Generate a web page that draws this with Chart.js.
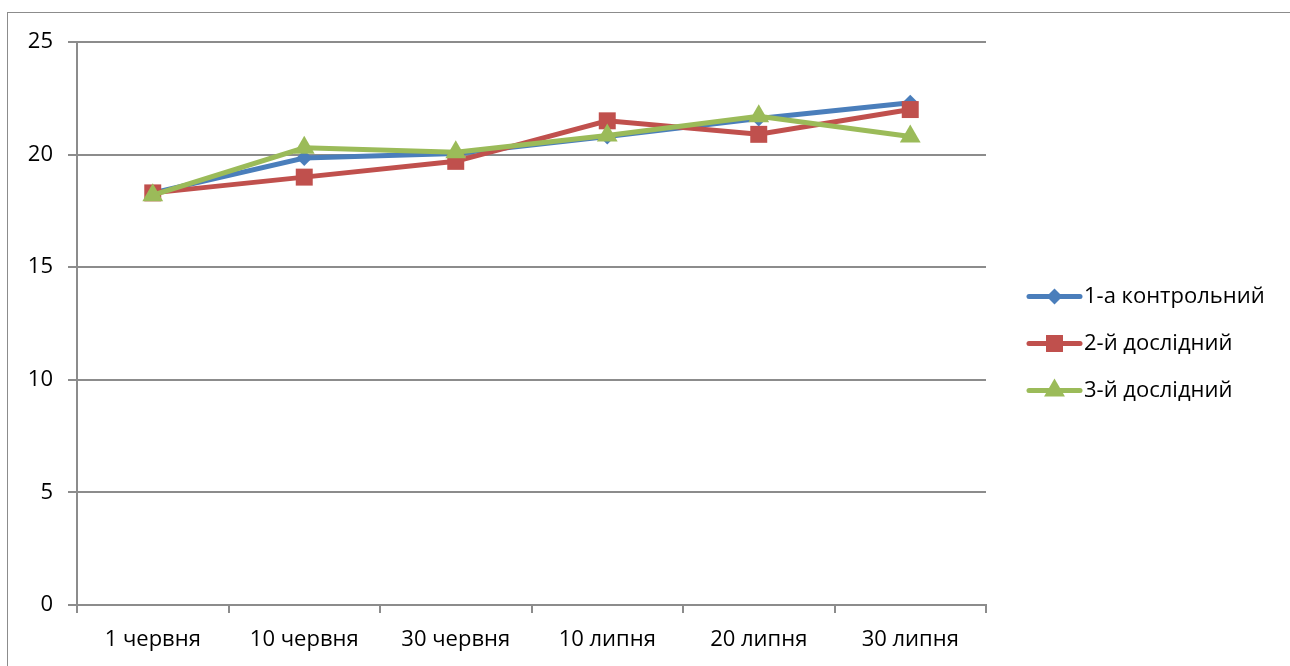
<!DOCTYPE html>
<html>
<head>
<meta charset="utf-8">
<script src="https://cdn.jsdelivr.net/npm/chart.js@4.4.1/dist/chart.umd.min.js"></script>
<style>
  html, body { margin: 0; padding: 0; background: #fff; overflow: hidden; }
  #wrap { position: relative; width: 1290px; height: 666px; }
  #frame { position: absolute; left: 7px; top: 12px; width: 1400px; height: 800px; border: 1px solid #8c8c8c; box-sizing: border-box; pointer-events: none; }
  canvas { position: absolute; left: 0; top: 0; }
</style>
</head>
<body>
<div id="wrap">
  <canvas id="c" width="1290" height="666"></canvas>
  <div id="frame"></div>
</div>
<script>
// Sampling dates
const categories = ['1 червня', '10 червня', '30 червня', '10 липня', '20 липня', '30 липня'];

// Series values
const control1 = [18.3, 19.85, 20.05, 20.8, 21.6, 22.3];
const trial2   = [18.3, 19.0, 19.7, 21.5, 20.9, 22.0];
const trial3   = [18.2, 20.3, 20.1, 20.85, 21.7, 20.8];

const seriesNames = ['1-а контрольний', '2-й дослідний', '3-й дослідний'];

// Y axis ticks
const yTicks = [0, 5, 10, 15, 20, 25];

const FONT = "'Open Sans', 'Noto Sans', sans-serif";
const FONT_SIZE = 22;
const GRID = '#8c8c8c';

function drawMarker(ctx, style, x, y, r, color) {
  ctx.save();
  ctx.fillStyle = color;
  ctx.beginPath();
  if (style === 'rectRot') {
    ctx.moveTo(x, y - r); ctx.lineTo(x + r, y); ctx.lineTo(x, y + r); ctx.lineTo(x - r, y);
  } else if (style === 'rect') {
    const s = r * Math.SQRT1_2;
    ctx.rect(x - s, y - s, 2 * s, 2 * s);
  } else if (style === 'triangle') {
    ctx.moveTo(x, y - r); ctx.lineTo(x + r * 0.87, y + r * 0.5); ctx.lineTo(x - r * 0.87, y + r * 0.5);
  }
  ctx.closePath();
  ctx.fill();
  ctx.restore();
}

// Legend on the right: line segment with marker, followed by the series name
const sideLegend = {
  id: 'sideLegend',
  afterDraw(chart) {
    const ctx = chart.ctx;
    const mid = (chart.chartArea.top + chart.chartArea.bottom) / 2 + 20;
    const gap = 47;
    const n = chart.data.datasets.length;
    chart.data.datasets.forEach((ds, i) => {
      const y = mid + (i - (n - 1) / 2) * gap;
      ctx.save();
      ctx.strokeStyle = ds.borderColor;
      ctx.lineWidth = 5;
      ctx.lineCap = 'round';
      ctx.beginPath();
      ctx.moveTo(1029, y); ctx.lineTo(1080, y);
      ctx.stroke();
      drawMarker(ctx, ds.pointStyle, 1054.5, y, ds.legendMarker, ds.pointBackgroundColor);
      ctx.fillStyle = '#000';
      ctx.font = FONT_SIZE + 'px ' + FONT;
      ctx.textBaseline = 'middle';
      ctx.textAlign = 'left';
      ctx.fillText(ds.label, 1084, y);
      ctx.restore();
    });
  }
};

function series(label, data, color, style, radius, order, legendMarker) {
  return {
    label, data,
    borderColor: color,
    backgroundColor: color,
    pointBackgroundColor: color,
    pointBorderColor: color,
    pointBorderWidth: 0,
    pointStyle: style,
    pointRadius: radius,
    pointHoverRadius: radius,
    borderWidth: 5,
    tension: 0,
    order,
    legendMarker
  };
}

new Chart(document.getElementById('c'), {
  type: 'line',
  data: {
    labels: categories,
    datasets: [
      series(seriesNames[0], control1, '#4a7ebb', 'rectRot', 8, 3, 8),
      series(seriesNames[1], trial2, '#c0504d', 'rect', 12, 2, 12),
      series(seriesNames[2], trial3, '#9bbb59', 'triangle', 12, 1, 12)
    ]
  },
  options: {
    responsive: false,
    animation: false,
    devicePixelRatio: 1,
    layout: { padding: { left: 0, right: 304, top: 42, bottom: 0 } },
    plugins: { legend: { display: false }, tooltip: { enabled: false } },
    scales: {
      x: {
        offset: true,
        grid: { offset: true, drawOnChartArea: false, drawTicks: true, tickLength: 8, color: GRID, lineWidth: 2 },
        border: { color: GRID, width: 2 },
        ticks: { color: '#000', font: { family: FONT, size: FONT_SIZE }, padding: 14, maxRotation: 0 },
        afterFit(scale) { scale.height = 61; }
      },
      y: {
        min: 0, max: 25,
        afterBuildTicks(scale) { scale.ticks = yTicks.map(v => ({ value: v })); },
        grid: { color: GRID, lineWidth: 2, tickLength: 9 },
        border: { color: GRID, width: 2 },
        ticks: { color: '#000', font: { family: FONT, size: FONT_SIZE }, padding: 15 },
        afterFit(scale) { scale.width = 77; }
      }
    }
  },
  plugins: [sideLegend]
});
</script>
</body>
</html>
